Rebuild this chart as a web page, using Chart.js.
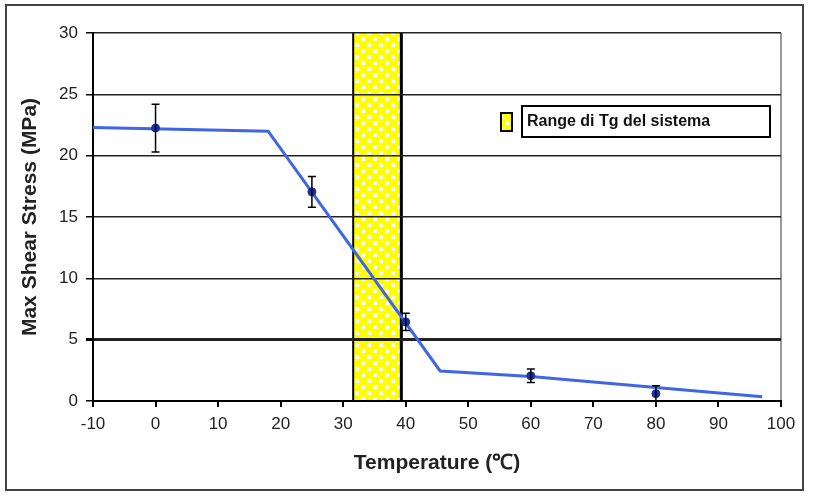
<!DOCTYPE html>
<html lang="it">
<head>
<meta charset="UTF-8">
<title>Max Shear Stress vs Temperature</title>
<script src="https://cdn.jsdelivr.net/npm/chart.js"></script>
<style>
  body { margin: 0; background: #fff; }
  canvas { display: block; }
</style>
</head>
<body>
<canvas id="chart" width="813" height="495"></canvas>
<script>
// fitted trend line (temperature, stress)
const lineTemps = [-10, 18, 45.5, 60, 80, 97];
const lineStress = [22.3, 22.0, 2.45, 2.0, 1.1, 0.35];

// measured points with error
const pointTemps = [0, 25, 40, 60, 80];
const pointStress = [22.25, 17.05, 6.45, 2.05, 0.6];
const pointErr = [1.95, 1.25, 0.7, 0.55, 0.65];

// Tg range of the system
const tgRange = [31.6, 39.3];
const legendLabel = 'Range di Tg del sistema';

const xTicks = [-10, 0, 10, 20, 30, 40, 50, 60, 70, 80, 90, 100];
const yTicks = [0, 5, 10, 15, 20, 25, 30];

const FONT = '"Liberation Sans", Arial, sans-serif';

function makeChecker() {
    const c = document.createElement('canvas');
    c.width = 12; c.height = 12;
    const g = c.getContext('2d');
    g.fillStyle = '#ffff00';
    g.fillRect(0, 0, 12, 12);
    g.fillStyle = '#ffffff';
    g.fillRect(1, 1, 4, 4);
    g.fillRect(7, 7, 4, 4);
    return c;
}

const tgBand = {
    id: 'tgBand',
    beforeDraw(chart) {
        const ctx = chart.ctx;
        const x = chart.scales.x;
        const a = chart.chartArea;
        const x0 = x.getPixelForValue(tgRange[0]);
        const x1 = x.getPixelForValue(tgRange[1]);
        ctx.save();
        ctx.fillStyle = ctx.createPattern(makeChecker(), 'repeat');
        ctx.fillRect(x0, a.top, x1 - x0, a.bottom - a.top);
        ctx.strokeStyle = '#000';
        ctx.lineWidth = 2;
        ctx.beginPath(); ctx.moveTo(x0, a.top); ctx.lineTo(x0, a.bottom); ctx.stroke();
        ctx.lineWidth = 3;
        ctx.beginPath(); ctx.moveTo(x1, a.top); ctx.lineTo(x1, a.bottom); ctx.stroke();
        ctx.restore();
    }
};

const errorBars = {
    id: 'errorBars',
    afterDatasetsDraw(chart) {
        const ctx = chart.ctx;
        const x = chart.scales.x, y = chart.scales.y;
        ctx.save();
        ctx.strokeStyle = '#000';
        ctx.lineWidth = 1.5;
        pointTemps.forEach((t, i) => {
            const px = x.getPixelForValue(t);
            const top = y.getPixelForValue(pointStress[i] + pointErr[i]);
            const bot = y.getPixelForValue(Math.max(0, pointStress[i] - pointErr[i]));
            ctx.beginPath();
            ctx.moveTo(px, top); ctx.lineTo(px, bot);
            ctx.moveTo(px - 4, top); ctx.lineTo(px + 4, top);
            ctx.moveTo(px - 4, bot); ctx.lineTo(px + 4, bot);
            ctx.stroke();
        });
        ctx.restore();
    }
};

const frameAndLegend = {
    id: 'frameAndLegend',
    afterDraw(chart) {
        const ctx = chart.ctx;
        ctx.save();
        // outer frame
        ctx.strokeStyle = '#444';
        ctx.lineWidth = 2;
        ctx.strokeRect(6, 5, 797, 485);
        // legend
        ctx.fillStyle = ctx.createPattern(makeChecker(), 'repeat');
        ctx.fillRect(501, 113, 11, 18);
        ctx.strokeStyle = '#000';
        ctx.lineWidth = 2;
        ctx.strokeRect(501, 113, 11, 18);
        ctx.fillStyle = '#fff';
        ctx.fillRect(522, 106, 248, 31);
        ctx.strokeRect(522, 106, 248, 31);
        ctx.fillStyle = '#111';
        ctx.font = 'bold 16px ' + FONT;
        ctx.textBaseline = 'middle';
        ctx.fillText(legendLabel, 527, 122);
        ctx.restore();
    }
};

new Chart(document.getElementById('chart'), {
    type: 'scatter',
    data: {
        datasets: [
            {
                data: lineTemps.map((t, i) => ({x: t, y: lineStress[i]})),
                showLine: true,
                borderColor: '#4066e4',
                borderWidth: 3,
                pointRadius: 0,
                order: 2
            },
            {
                data: pointTemps.map((t, i) => ({x: t, y: pointStress[i]})),
                pointStyle: 'circle',
                pointRadius: 4,
                backgroundColor: '#1a2fa0',
                borderColor: '#1a2fa0',
                order: 1
            }
        ]
    },
    options: {
        responsive: false,
        animation: false,
        layout: { padding: { left: 0, top: 33, right: 32, bottom: 0 } },
        plugins: { legend: { display: false }, tooltip: { enabled: false } },
        scales: {
            x: {
                type: 'linear',
                min: -10, max: 100,
                afterBuildTicks: s => { s.ticks = xTicks.map(v => ({value: v})); },
                afterFit: s => { s.height = 94; },
                grid: {
                    color: c => c.tick && c.tick.value === 100 ? '#999' : 'rgba(0,0,0,0)',
                    tickColor: '#000',
                    tickLength: 6,
                    lineWidth: 2
                },
                border: { display: true, color: '#000', width: 2 },
                ticks: {
                    color: '#222', padding: 7,
                    font: { family: FONT, size: 17 }
                },
                title: {
                    display: true, text: 'Temperature (℃)', color: '#222', padding: 19,
                    font: { family: FONT, size: 21, weight: 'bold' }
                }
            },
            y: {
                min: 0, max: 30,
                afterBuildTicks: s => { s.ticks = yTicks.map(v => ({value: v})); },
                afterFit: s => { s.width = 93; },
                grid: {
                    color: '#222',
                    tickColor: '#000',
                    tickLength: 7,
                    lineWidth: c => c.tick && c.tick.value === 5 ? 3 : 1.5
                },
                border: { display: true, color: '#000', width: 2 },
                ticks: {
                    color: '#222', padding: 8,
                    font: { family: FONT, size: 17 }
                },
                title: {
                    display: true, text: 'Max Shear Stress (MPa)', color: '#222', padding: 18,
                    font: { family: FONT, size: 21, weight: 'bold' }
                }
            }
        }
    },
    plugins: [tgBand, errorBars, frameAndLegend]
});
</script>
</body>
</html>
